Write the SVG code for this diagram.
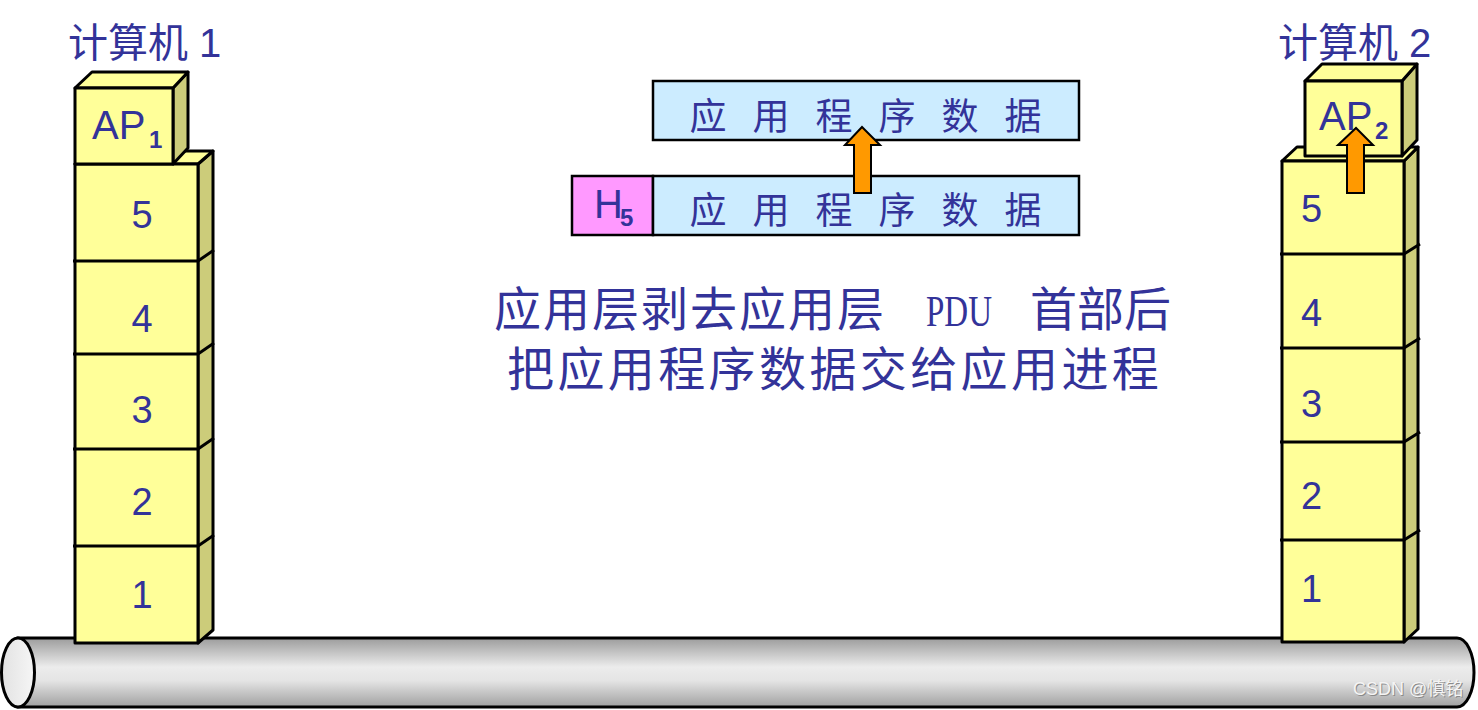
<svg xmlns="http://www.w3.org/2000/svg" width="1478" height="710" viewBox="0 0 1478 710">
<defs>
<linearGradient id="pipeGrad" x1="0" y1="0" x2="0" y2="1">
<stop offset="0" stop-color="#9c9c9c"/>
<stop offset="0.42" stop-color="#ececec"/>
<stop offset="0.62" stop-color="#e4e4e4"/>
<stop offset="1" stop-color="#a0a0a0"/>
</linearGradient>
<linearGradient id="capGrad" x1="0" y1="0" x2="1" y2="0">
<stop offset="0" stop-color="#e2e2e2"/>
<stop offset="1" stop-color="#f6f6f6"/>
</linearGradient>
</defs>
<style>
.face{fill:#FFFF99;stroke:#000;stroke-width:3;stroke-linejoin:round}
.side{fill:#CCCC7A;stroke:#000;stroke-width:3;stroke-linejoin:round}
.ln{stroke:#000;stroke-width:3;fill:none}
.title{font-family:"Liberation Sans","Noto Sans CJK SC",sans-serif;font-size:40px;fill:#333399}
.num{font-family:"Liberation Sans",sans-serif;font-size:38px;fill:#333399}
.ap{font-family:"Liberation Sans",sans-serif;font-size:40px;fill:#333399}
.sub{font-family:"Liberation Sans",sans-serif;font-size:24px;font-weight:bold;fill:#333399}
.data{fill:#CCECFF;stroke:#000;stroke-width:2.5}
.hdr{fill:#FF99FF;stroke:#000;stroke-width:2.5}
.dtxt{font-family:"Noto Sans CJK SC",sans-serif;font-size:37px;fill:#333399;text-anchor:middle}
.cap{font-family:"Noto Sans CJK SC",sans-serif;font-size:47px;fill:#333399}
.arrow{fill:#FF9900;stroke:#000;stroke-width:2;stroke-linejoin:miter}
</style>
<rect width="1478" height="710" fill="#ffffff"/>

<g id="network">
<path d="M18,638 H1457 A17,34.5 0 0 1 1457,707 H18 Z" fill="url(#pipeGrad)" stroke="#000" stroke-width="3"/>
<ellipse cx="18" cy="672.5" rx="16.5" ry="34.5" fill="url(#capGrad)" stroke="#000" stroke-width="3"/>
<text x="1354" y="696" font-family="'Liberation Sans','Noto Sans CJK SC',sans-serif" font-size="18" fill="#8a8a8a">CSDN @慎铭</text>
<text x="1353" y="695" font-family="'Liberation Sans','Noto Sans CJK SC',sans-serif" font-size="18" fill="#f4f4f4">CSDN @慎铭</text>
</g>

<g id="computer1">
<text class="title" x="68" y="57">计算机 1</text>
<polygon class="side" points="198,164 213,151 213,630 198,643"/>
<polygon class="face" points="75,164 90,151 213,151 198,164"/>
<rect class="face" x="75" y="164" width="123" height="479"/>
<path class="ln" d="M73,261 H198 L214,250 M73,354 H198 L214,343 M73,449 H198 L214,438 M73,546 H198 L214,535"/>
<text class="num" x="142" y="228" text-anchor="middle">5</text>
<text class="num" x="142" y="332" text-anchor="middle">4</text>
<text class="num" x="142" y="423" text-anchor="middle">3</text>
<text class="num" x="142" y="515" text-anchor="middle">2</text>
<text class="num" x="142" y="608" text-anchor="middle">1</text>
<g id="ap1">
<polygon class="side" points="173,88 188,72 188,148 173,164"/>
<polygon class="face" points="75,88 92,72 188,72 173,88"/>
<rect class="face" x="75" y="88" width="98" height="76"/>
<text class="ap" x="92" y="139">AP</text>
<text class="sub" x="149" y="148">1</text>
</g>
</g>

<g id="computer2">
<text class="title" x="1278" y="57">计算机 2</text>
<polygon class="side" points="1404,161 1418,147 1418,629 1404,642"/>
<polygon class="face" points="1282,161 1297,147 1418,147 1404,161"/>
<rect class="face" x="1282" y="161" width="122" height="481"/>
<path class="ln" d="M1280,254 H1404 L1420,244 M1280,348 H1404 L1420,338 M1280,442 H1404 L1420,432 M1280,540 H1404 L1420,530"/>
<text class="num" x="1301" y="222">5</text>
<text class="num" x="1301" y="326">4</text>
<text class="num" x="1301" y="417">3</text>
<text class="num" x="1301" y="509">2</text>
<text class="num" x="1301" y="602">1</text>
<g id="ap2">
<polygon class="side" points="1402,81 1417,64 1417,140 1402,156"/>
<polygon class="face" points="1305,81 1322,64 1417,64 1402,81"/>
<rect class="face" x="1305" y="81" width="97" height="75"/>
<text class="ap" x="1319" y="130">AP</text>
<text class="sub" x="1375" y="139">2</text>
</g>
</g>

<g id="app-data">
<rect class="data" x="653" y="81" width="426" height="59"/>
<text class="dtxt" x="708 771 834 897 960 1023" y="130">应用程序数据</text>
</g>

<g id="pdu5">
<rect class="hdr" x="572" y="176" width="81" height="59"/>
<rect class="data" x="653" y="176" width="426" height="59"/>
<text class="ap" x="594" y="218" font-size="37">H</text>
<text class="sub" x="620" y="226" font-size="22">5</text>
<text class="dtxt" x="708 771 834 897 960 1023" y="224">应用程序数据</text>
</g>

<g id="caption">
<text class="cap"><tspan x="494 543 592 641 690 739 788 837" y="326">应用层剥去应用层</tspan><tspan x="926" y="326" font-family="'Liberation Serif',serif" font-size="45" textLength="66" lengthAdjust="spacingAndGlyphs">PDU</tspan><tspan x="1030 1077 1124" y="326">首部后</tspan><tspan x="507 557.4 607.8 658.2 708.6 759 809.4 859.8 910.2 960.6 1011 1061.4 1111.8" y="386">把应用程序数据交给应用进程</tspan></text>
</g>

<g id="connectors">
<polygon class="arrow" points="854,193 854,145 845,145 862,127 880,145 871,145 871,193"/>
<polygon class="arrow" points="1347,193 1347,145 1338,145 1356,128 1373,145 1364,145 1364,193"/>
</g>
</svg>
